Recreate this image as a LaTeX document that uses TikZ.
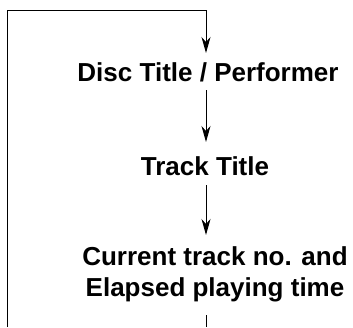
\documentclass[tikz,border=0pt]{standalone}
\usepackage{fontspec}
\setmainfont{Liberation Sans}
\usetikzlibrary{arrows.meta}
\begin{document}
\begin{tikzpicture}[x=1pt,y=-1pt,
  lbl/.style={font=\bfseries\fontsize{26}{31}\selectfont, align=center, inner sep=0pt},
  ln/.style={line width=1pt},
  arr/.style={ln, -{Stealth[length=16pt,width=9pt,inset=5pt]}}]
\useasboundingbox (0,0) rectangle (353,327);
\node[lbl] (disc) at (208,72.5) {Disc Title / Performer};
\node[lbl] (track) at (205,166) {Track Title};
\node[lbl] (cur) at (215,274) {Current track no. and\\Elapsed playing time};
\coordinate (tl) at (7.5,10);
\coordinate (tr) at (206,10);
\coordinate (bl) at (7.5,327);
\coordinate (bb) at (206,327);
\coordinate (d1) at (206,53);
\coordinate (d2) at (206,90);
\coordinate (t1) at (206,142);
\coordinate (t2) at (206,185);
\coordinate (c1) at (206,235);
\coordinate (c2) at (206,315);
\draw[ln] (bl) -- (tl) -- (tr);
\draw[arr] (tr) -- (d1);
\draw[arr] (d2) -- (t1);
\draw[arr] (t2) -- (c1);
\draw[ln] (c2) -- (bb);
\end{tikzpicture}
\end{document}
